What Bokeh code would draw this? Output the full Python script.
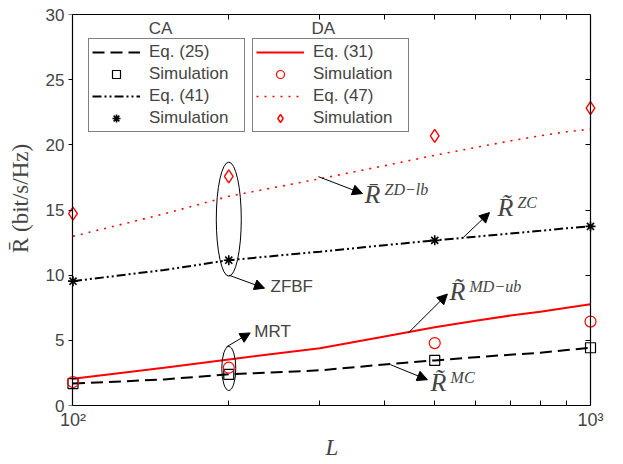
from bokeh.plotting import figure
from bokeh.models import (Legend, LegendItem, Label, Arrow, NormalHead, FixedTicker,
                          LogAxis, LinearAxis, CustomJSTickFormatter)
from bokeh.embed import file_html
from bokeh.resources import INLINE

# ---------------- data ----------------
L_curve = [100, 150, 200, 300, 400, 500, 600, 700, 800, 900, 1000]
eq25 = [1.68, 2.00, 2.39, 2.70, 3.15, 3.46, 3.70, 3.90, 4.05, 4.25, 4.43]
eq31 = [2.06, 2.90, 3.53, 4.40, 5.30, 6.00, 6.50, 6.90, 7.20, 7.50, 7.76]
eq41 = [9.54, 10.40, 11.15, 11.80, 12.30, 12.67, 12.95, 13.20, 13.40, 13.60, 13.74]
eq47 = [12.98, 14.70, 16.05, 17.40, 18.40, 19.20, 19.80, 20.30, 20.70, 21.00, 21.20]

L_sim = [100, 200, 500, 1000]
sim_ca_mrt = [1.68, 2.39, 3.46, 4.43]
sim_da_mrt = [1.80, 2.90, 4.79, 6.44]
sim_ca_zf = [9.54, 11.15, 12.67, 13.74]
sim_da_zf = [14.73, 17.58, 20.69, 22.82]

x_ticks = [100, 1000]
x_tick_labels = ["10\u00b2", "10\u00b3"]
x_minor = [200, 300, 400, 500, 600, 700, 800, 900]
y_ticks = [0, 5, 10, 15, 20, 25, 30]
x_lo, x_hi = 100, 1000
y_lo, y_hi = 0, 30

SANS = "Liberation Sans"
SERIF = "Liberation Serif"

# x range padded by a few pixels on both sides so edge markers are not clipped;
# the visible axes box is drawn at x = 100 and x = 1000 by axes with fixed_location.
p = figure(width=620, height=462, x_axis_type="log", x_range=(96.72, 1036.2),
           y_range=(y_lo, y_hi), output_backend="svg", toolbar_location=None,
           min_border_left=65, min_border_right=22, min_border_top=14, min_border_bottom=55)
p.xgrid.visible = False
p.ygrid.visible = False
p.outline_line_color = None

blank = CustomJSTickFormatter(code="return ''")

# bottom axis (frame edge == y 0)
bx = p.xaxis[0]
bx.ticker = FixedTicker(ticks=x_ticks, minor_ticks=x_minor)
bx.bounds = (x_lo, x_hi)
bx.major_label_overrides = {t: s for t, s in zip(x_ticks, x_tick_labels)}
bx.major_label_text_font = SANS
bx.major_label_text_font_size = "18px"
bx.major_tick_in = 5
bx.major_tick_out = 0
bx.minor_tick_in = 5
bx.minor_tick_out = 0
bx.axis_line_width = 1.2
bx.major_label_standoff = 4
bx.axis_label = "L"
bx.axis_label_text_font = SERIF
bx.axis_label_text_font_style = "italic"
bx.axis_label_text_font_size = "23px"
bx.axis_label_standoff = 2

# left axis: only tick labels and title (line / ticks drawn by the fixed one)
ly = p.yaxis[0]
ly.ticker = FixedTicker(ticks=y_ticks)
ly.axis_line_color = None
ly.major_tick_line_color = None
ly.minor_tick_line_color = None
ly.major_tick_in = 0
ly.major_tick_out = 0
ly.minor_tick_in = 0
ly.minor_tick_out = 0
ly.major_label_text_font = SANS
ly.major_label_text_font_size = "17px"
ly.major_label_standoff = 1
ly.axis_label = "\u00a0\u00a0\u00a0\u00a0R\u0304 (bit/s/Hz)"
ly.axis_label_text_font = SERIF
ly.axis_label_text_font_style = "normal"
ly.axis_label_text_font_size = "23px"
ly.axis_label_standoff = 10

lfix = LinearAxis(ticker=FixedTicker(ticks=y_ticks), formatter=blank,
                  fixed_location=x_lo, bounds=(y_lo, y_hi),
                  major_tick_in=0, major_tick_out=4, minor_tick_in=0, minor_tick_out=0,
                  major_label_standoff=0, axis_line_width=1.2)
p.add_layout(lfix, "left")

tx = LogAxis(ticker=FixedTicker(ticks=x_ticks, minor_ticks=x_minor), formatter=blank,
             bounds=(x_lo, x_hi),
             major_tick_in=5, major_tick_out=0, minor_tick_in=5, minor_tick_out=0,
             major_label_standoff=0, axis_line_width=1.2)
p.add_layout(tx, "above")
ry = LinearAxis(ticker=FixedTicker(ticks=y_ticks), formatter=blank,
                fixed_location=x_hi, bounds=(y_lo, y_hi),
                major_tick_in=5, major_tick_out=0, minor_tick_in=0, minor_tick_out=0,
                major_label_standoff=0, axis_line_width=1.2)
p.add_layout(ry, "right")

# ---------------- curves ----------------
r25 = p.line(L_curve, eq25, line_color="black", line_width=2, line_dash="12 6")
r31 = p.line(L_curve, eq31, line_color="red", line_width=2)
r41 = p.line(L_curve, eq41, line_color="black", line_width=2, line_dash="9 3 2 3 2 3")
r47 = p.line(L_curve, eq47, line_color="red", line_width=1.6, line_dash="2 6")

s25 = p.scatter(L_sim, sim_ca_mrt, marker="square", size=10, fill_color=None,
                line_color="black", line_width=1.2)
s31 = p.scatter(L_sim, sim_da_mrt, marker="circle", size=11, fill_color=None,
                line_color="red", line_width=1.2)
s41 = p.scatter(L_sim, sim_ca_zf, marker="asterisk", size=10, line_color="black",
                line_width=1.6)
s47 = p.scatter(L_sim, sim_da_zf, marker="diamond", size=13, fill_color=None,
                line_color="red", line_width=1.4)

# ---------------- annotations ----------------
p.ellipse(x=[200], y=[14.30], width=25, height=114, width_units="screen",
          height_units="screen", fill_color=None, line_color="black", line_width=1)
p.ellipse(x=[200], y=[2.84], width=14, height=44, width_units="screen",
          height_units="screen", fill_color=None, line_color="black", line_width=1)

arrows = [
    (200, 10.0, 234.5, 9.0),     # ZFBF
    (198, 4.5, 220, 5.57),       # MRT
    (444.6, 5.57, 529, 8.55),    # MD-ub
    (410.7, 3.13, 484, 1.98),    # MC
    (298, 17.56, 362.6, 16.26),  # ZD-lb
    (568, 12.9, 638, 14.8),      # ZC
]
for xs, ys, xe, ye in arrows:
    p.add_layout(Arrow(x_start=xs, y_start=ys, x_end=xe, y_end=ye, line_width=1,
                       line_color="black",
                       end=NormalHead(size=10, fill_color="black", line_color="black")))

p.add_layout(Label(x=240.8, y=9.16, text="ZFBF", text_font=SANS, text_font_size="17px",
                   text_baseline="middle"))
p.add_layout(Label(x=224, y=5.65, text="MRT", text_font=SANS, text_font_size="17px",
                   text_baseline="middle"))

rlabels = [
    (366, 15.10, "R\u0304", "ZD\u2212lb"),
    (661, 14.05, "R\u0303", "ZC"),
    (534, 7.64, "R\u0303", "MD\u2212ub"),
    (490.8, 0.62, "R\u0303", "MC"),
]
for x, y, base, sup in rlabels:
    p.add_layout(Label(x=x, y=y, text=base, text_font=SERIF, text_font_style="italic",
                       text_font_size="26px"))
    p.add_layout(Label(x=x, y=y, x_offset=20, y_offset=11, text=sup, text_font=SERIF,
                       text_font_style="italic", text_font_size="16px"))

# titles of the legends
p.add_layout(Label(x=147.6, y=28.93, text="CA", text_font=SANS, text_font_size="17px",
                   text_align="center", text_baseline="middle"))
p.add_layout(Label(x=304.6, y=28.93, text="DA", text_font=SANS, text_font_size="17px",
                   text_align="center", text_baseline="middle"))


def make_legend(items, loc):
    return Legend(items=items, location=loc, border_line_color="black", border_line_width=1,
                  background_fill_color="white", background_fill_alpha=1.0,
                  padding=3, spacing=2, label_height=20, glyph_height=20, glyph_width=48,
                  label_standoff=9, label_width=92, margin=0,
                  label_text_font=SANS, label_text_font_size="17px")


leg_ca = make_legend([LegendItem(label="Eq. (25)", renderers=[r25]),
                      LegendItem(label="Simulation", renderers=[s25]),
                      LegendItem(label="Eq. (41)", renderers=[r41]),
                      LegendItem(label="Simulation", renderers=[s41])], (23, 273))
leg_da = make_legend([LegendItem(label="Eq. (31)", renderers=[r31]),
                      LegendItem(label="Simulation", renderers=[s31]),
                      LegendItem(label="Eq. (47)", renderers=[r47]),
                      LegendItem(label="Simulation", renderers=[s47])], (187, 273))
p.add_layout(leg_ca)
p.add_layout(leg_da)

open("out.html", "w").write(file_html(p, INLINE))
